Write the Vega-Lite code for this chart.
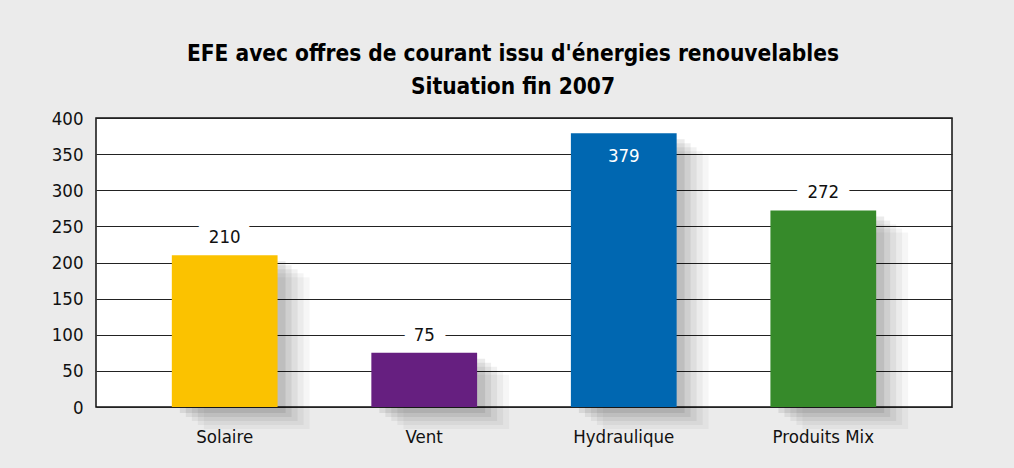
{
  "$schema": "https://vega.github.io/schema/vega-lite/v6.json",
  "width": 856,
  "height": 289,
  "autosize": {"type": "none"},
  "padding": {"left": 96, "top": 118, "right": 62, "bottom": 61},
  "background": "#ebebeb",
  "title": {
    "text": ["EFE avec offres de courant issu d'énergies renouvelables", "Situation fin 2007"],
    "font": "DejaVu Sans Condensed, Roboto Condensed, Roboto, sans-serif",
    "fontSize": 22.5,
    "fontWeight": "bold",
    "color": "#000000",
    "anchor": "middle",
    "dx": -11,
    "offset": 11,
    "lineHeight": 33
  },
  "config": {
    "view": {"fill": "white", "stroke": "#111111", "strokeWidth": 1.5},
    "axis": {"labelFont": "DejaVu Sans Condensed, Roboto Condensed, Roboto, sans-serif", "labelFontSize": 18.5, "labelColor": "#111111"}
  },
  "data": {
    "values": [
      {"category": "Solaire", "value": 210},
      {"category": "Vent", "value": 75},
      {"category": "Hydraulique", "value": 379},
      {"category": "Produits Mix", "value": 272}
    ]
  },
  "encoding": {
    "x": {
      "field": "category",
      "type": "nominal",
      "sort": null,
      "scale": {"domain": ["Solaire", "Vent", "Hydraulique", "Produits Mix"], "paddingInner": 0.47, "paddingOuter": 0.38},
      "axis": {"title": null, "labelAngle": 0, "ticks": false, "domain": false, "labelPadding": 20}
    },
    "y": {
      "field": "value",
      "type": "quantitative",
      "scale": {"domain": [0, 400], "nice": false},
      "axis": {
        "title": null,
        "values": [0, 50, 100, 150, 200, 250, 300, 350, 400],
        "ticks": false,
        "domain": false,
        "labelPadding": 13,
        "gridColor": "#222222",
        "gridWidth": 1.2,
        "gridOpacity": 1
      }
    }
  },
  "layer": [
    {
      "transform": [{"filter": "datum.value < 350"}],
      "mark": {"type": "text", "baseline": "bottom", "dy": -8, "font": "DejaVu Sans Condensed, Roboto Condensed, Roboto, sans-serif", "fontSize": 18.5, "stroke": "white", "strokeWidth": 24, "strokeJoin": "round", "color": "white"},
      "encoding": {"text": {"field": "value", "type": "quantitative"}}
    },
    {"mark": {"type": "bar", "color": "#000000", "opacity": 0.035, "xOffset": 32, "yOffset": 22}},
    {"mark": {"type": "bar", "color": "#000000", "opacity": 0.045, "xOffset": 26, "yOffset": 18}},
    {"mark": {"type": "bar", "color": "#000000", "opacity": 0.055, "xOffset": 20, "yOffset": 14}},
    {"mark": {"type": "bar", "color": "#000000", "opacity": 0.065, "xOffset": 14, "yOffset": 10}},
    {"mark": {"type": "bar", "color": "#000000", "opacity": 0.08, "xOffset": 8, "yOffset": 6}},
    {
      "mark": {"type": "bar"},
      "encoding": {
        "color": {
          "field": "category",
          "type": "nominal",
          "legend": null,
          "scale": {
            "domain": ["Solaire", "Vent", "Hydraulique", "Produits Mix"],
            "range": ["#fbc200", "#661f80", "#0067b1", "#368a2a"]
          }
        }
      }
    },
    {
      "transform": [{"filter": "datum.value < 350"}],
      "mark": {"type": "text", "baseline": "bottom", "dy": -8, "font": "DejaVu Sans Condensed, Roboto Condensed, Roboto, sans-serif", "fontSize": 18.5, "color": "#111111"},
      "encoding": {"text": {"field": "value", "type": "quantitative"}}
    },
    {
      "transform": [{"filter": "datum.value >= 350"}],
      "mark": {"type": "text", "baseline": "top", "dy": 14, "font": "DejaVu Sans Condensed, Roboto Condensed, Roboto, sans-serif", "fontSize": 18.5, "color": "white"},
      "encoding": {"text": {"field": "value", "type": "quantitative"}}
    }
  ]
}
